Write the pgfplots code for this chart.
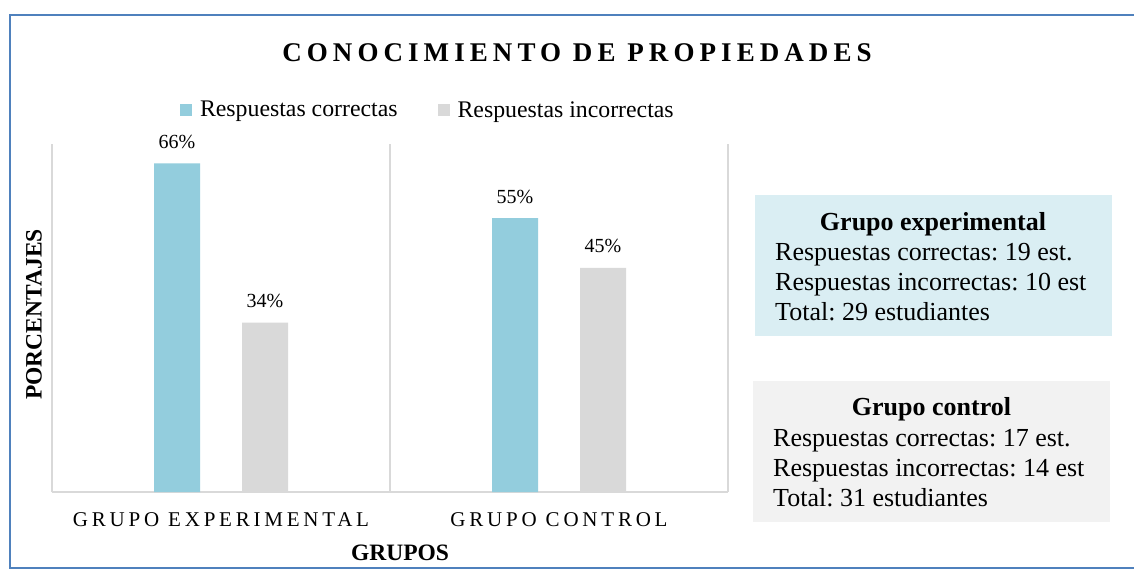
\documentclass[border=0pt]{standalone}
\usepackage{fontspec}
\setmainfont{Liberation Serif}
\newfontfamily\spacedfont[LetterSpace=18]{Liberation Serif}
\newfontfamily\titlefont[LetterSpace=18.8]{Liberation Serif}
\usepackage{pgfplots}
\pgfplotsset{compat=1.18}
\definecolor{barcyan}{HTML}{93CDDD}
\definecolor{bargray}{HTML}{D9D9D9}
\definecolor{boxblue}{HTML}{DAEEF3}
\definecolor{boxgray}{HTML}{F2F2F2}
\definecolor{frameblue}{HTML}{4F81BD}
\definecolor{gridgray}{HTML}{D9D9D9}
\pgfplotsset{sqlegend/.style={legend image code/.code={\fill[##1] (0pt,-6pt) rectangle (12pt,6pt);}}}
\frenchspacing
\begin{document}
\begin{tikzpicture}
\useasboundingbox (0pt,0pt) rectangle (1134pt,-580pt);
\fill[white] (0pt,0pt) rectangle (1134pt,-580pt);
\draw[frameblue, line width=2pt] (10pt,-15pt) rectangle (1145pt,-568pt);
\node[anchor=base, font=\titlefont\bfseries\fontsize{27}{31}\selectfont, inner sep=0pt] at (577pt,-62pt) {CONOCIMIENTO DE PROPIEDADES};
\begin{axis}[
  at={(52pt,-492pt)}, anchor=south west, scale only axis,
  width=676pt, height=348pt,
  xmin=0, xmax=2, ymin=0, ymax=69.9,
  axis line style={draw=none},
  ytick=\empty,
  xtick={0.5,1.5},
  xticklabels={GRUPO EXPERIMENTAL, GRUPO CONTROL},
  major tick length=0pt,
  xticklabel style={font=\spacedfont\fontsize{21}{25}\selectfont, anchor=base, yshift=-34pt},
  extra x ticks={0,1,2},
  extra x tick labels={},
  extra x tick style={grid=major, major grid style={draw=gridgray, line width=1.5pt}},
  extra y ticks={0},
  extra y tick labels={},
  extra y tick style={grid=major, major grid style={draw=gridgray, line width=1.5pt}},
  ybar, bar width=46pt,
  nodes near coords={\pgfmathprintnumber[assume math mode=true]{\pgfplotspointmeta}\%},
  nodes near coords style={font=\fontsize{20}{24}\selectfont, anchor=base, yshift=15pt, inner sep=0pt, text=black},
  legend columns=2,
  legend style={draw=none, fill=none, at={(axis description cs:0.556,1.098)}, anchor=center,
    font=\fontsize{23.8}{28}\selectfont,
    /tikz/every odd column/.append style={column sep=6pt},
    /tikz/every even column/.append style={column sep=38pt}},
  xlabel={GRUPOS},
  xlabel style={font=\bfseries\fontsize{23.5}{28}\selectfont, at={(axis description cs:0.5148,0)}, anchor=base, yshift=-68pt},
  ylabel={PORCENTAJES},
  ylabel style={font=\bfseries\fontsize{23.5}{28}\selectfont, at={(axis description cs:-0.0266,0.51)}, anchor=center},
]
\addplot[fill=barcyan, draw=none, bar shift=-44pt, sqlegend] coordinates {(0.5,66) (1.5,55)};
\addplot[fill=bargray, draw=none, bar shift=44pt, sqlegend] coordinates {(0.5,34) (1.5,45)};
\legend{Respuestas correctas, Respuestas incorrectas}
\end{axis}
\fill[boxblue] (755pt,-195pt) rectangle (1112pt,-336pt);
\node[anchor=base, inner sep=0pt, font=\bfseries\fontsize{26}{30}\selectfont] at (933pt,-230pt) {Grupo experimental};
\node[anchor=base west, inner sep=0pt, font=\fontsize{26}{30}\selectfont] at (775pt,-260pt) {Respuestas correctas: 19 est.};
\node[anchor=base west, inner sep=0pt, font=\fontsize{26}{30}\selectfont] at (775pt,-290pt) {Respuestas incorrectas: 10 est};
\node[anchor=base west, inner sep=0pt, font=\fontsize{26}{30}\selectfont] at (775pt,-320pt) {Total: 29 estudiantes};
\fill[boxgray] (753pt,-381pt) rectangle (1110pt,-522pt);
\node[anchor=base, inner sep=0pt, font=\bfseries\fontsize{26}{30}\selectfont] at (931.5pt,-415.5pt) {Grupo control};
\node[anchor=base west, inner sep=0pt, font=\fontsize{26}{30}\selectfont] at (773pt,-446pt) {Respuestas correctas: 17 est.};
\node[anchor=base west, inner sep=0pt, font=\fontsize{26}{30}\selectfont] at (773pt,-476pt) {Respuestas incorrectas: 14 est};
\node[anchor=base west, inner sep=0pt, font=\fontsize{26}{30}\selectfont] at (773pt,-506pt) {Total: 31 estudiantes};
\end{tikzpicture}
\end{document}
